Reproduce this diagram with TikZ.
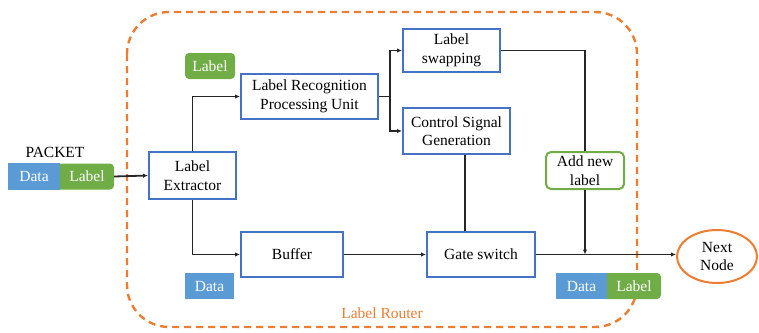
\documentclass[tikz,border=0pt]{standalone}
\usepackage{fontspec}
\setmainfont{Liberation Serif}
\newfontfamily\tmsfont{Liberation Serif}
\usetikzlibrary{arrows.meta,shapes.geometric}
\definecolor{bblue}{HTML}{4472C4}
\definecolor{fblue}{HTML}{5B9BD5}
\definecolor{ggreen}{HTML}{70AD47}
\definecolor{oorange}{HTML}{ED7D31}
\begin{document}
\begin{tikzpicture}[x=1pt,y=-1pt,
  every node/.style={font=\tmsfont\fontsize{15.5}{18.5}\selectfont, inner sep=0pt, align=center},
  bluebox/.style={draw=bblue, line width=2pt, fill=white, minimum width=#1},
  datab/.style={fill=fblue, text=white, minimum height=26pt},
  labelb/.style={fill=ggreen, text=white, minimum height=26pt, rounded corners=4pt},
  conn/.style={line width=1.8pt, draw=black!85},
  arr/.style={conn, -{Latex[length=5pt,width=4.5pt]}}]
\useasboundingbox (0,0) rectangle (759,332);
% router frame
\draw[oorange, line width=2.4pt, dash pattern=on 7pt off 5pt, rounded corners=42pt] (127,12) rectangle (637,327);
\node[text=oorange] (router) at (382,313) {Label Router};
% packet
\node (pkt) at (55,152) {PACKET};
\node[labelb, minimum width=59pt] (pl) at (84.5,176.5) {};
\node[datab, minimum width=52pt, minimum height=27pt] (pd) at (34,176.5) {Data};
\node[text=white] (plt) at (87,176.5) {Label};
% boxes
\node[bluebox=87pt, minimum height=47pt] (ext) at (192.5,175.5) {Label\\Extractor};
\node[bluebox=137pt, minimum height=45pt] (lrpu) at (309.5,96.5) {Label Recognition\\Processing Unit};
\node[labelb, minimum width=50pt] (lbl) at (210,66) {Label};
\node[bluebox=97pt, minimum height=43pt] (swap) at (451.5,50.5) {Label\\swapping};
\node[bluebox=107pt, minimum height=46pt] (csg) at (456.5,131) {Control Signal\\Generation};
\node[draw=ggreen, line width=2pt, fill=white, rounded corners=5pt, minimum width=78pt, minimum height=37pt] (add) at (585,170.5) {Add new\\label};
\node[bluebox=102pt, minimum height=45pt] (buf) at (292,254.5) {Buffer};
\node[bluebox=108pt, minimum height=45pt] (gate) at (481,254.5) {Gate switch};
\node[datab, minimum width=49pt] (dat) at (209.5,286) {Data};
% output packet
\node[labelb, minimum width=59pt] (l2) at (631.5,286) {};
\node[datab, minimum width=51pt] (d2) at (581.5,286) {Data};
\node[text=white] (l2t) at (634,286) {Label};
\node[ellipse, draw=oorange, line width=2pt, fill=white, minimum width=80pt, minimum height=53pt] (next) at (717,256.5) {Next\\Node};
% connectors
\draw[arr] (pl.east) -- (ext.west);
\draw[arr] (ext.north) |- (lrpu.west);
\draw[arr] (ext.south) |- (buf.west);
\coordinate (j) at (390,96.5);
\draw[conn] (lrpu.east) -- (j);
\draw[arr] (j) |- (swap.west);
\draw[arr] (j) |- (csg.west);
\draw[conn] (swap.east) -| (add.north);
\coordinate (m) at (585,254.5);
\draw[arr] (add.south) -- (m);
\coordinate (v) at (465,0);
\draw[conn] (csg.south -| v) -- (gate.north -| v);
\draw[arr] (buf.east) -- (gate.west);
\draw[arr] (gate.east) -- (next.west |- gate.east);
\end{tikzpicture}
\end{document}
